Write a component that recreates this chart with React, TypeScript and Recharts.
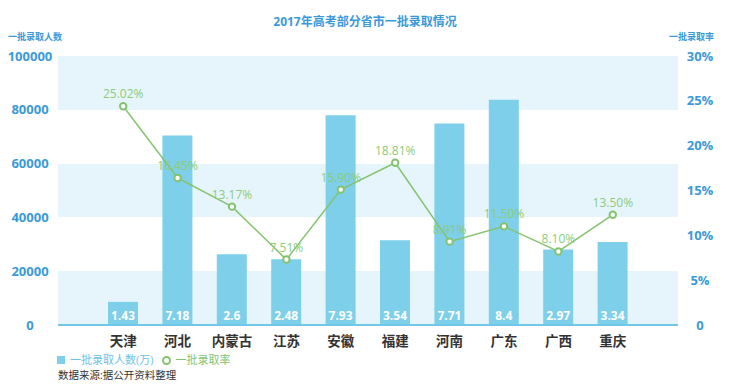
import React from 'react';
import {
  ComposedChart, Bar, Line, XAxis, YAxis, CartesianGrid, LabelList
} from 'recharts';

// 省市
const categories = ['天津', '河北', '内蒙古', '江苏', '安徽', '福建', '河南', '广东', '广西', '重庆'];
// 柱子高度
const countValues = [8600, 70400, 26300, 24400, 78000, 31500, 74900, 83700, 28100, 30900];
// 柱子上的标注（万）
const countLabels = ['1.43', '7.18', '2.6', '2.48', '7.93', '3.54', '7.71', '8.4', '2.97', '3.34'];
// 折线位置（按图上读取，%）
const rateValues = [24.4, 16.4, 13.2, 7.3, 15.1, 18.1, 9.3, 11.0, 8.2, 12.3];
const rateLabels = ['25.02%', '16.45%', '13.17%', '7.51%', '15.90%', '18.81%', '8.91%', '11.50%', '8.10%', '13.50%'];

const leftTicks = [0, 20000, 40000, 60000, 80000, 100000];
const rightTicks = [0, 5, 10, 15, 20, 25, 30];

const FONT = '"Open Sans", "Noto Sans CJK SC", sans-serif';
const BLUE_TEXT = '#3a9ad9';
const BAR = '#7dcfea';
const BAND = '#e6f5fb';
const GREEN = '#84c36e';
const GREEN_TEXT = '#8ccb78';

const data = categories.map((name, i) => ({
  name,
  count: countValues[i],
  countLabel: countLabels[i],
  rate: rateValues[i],
  rateLabel: rateLabels[i],
}));

const LeftTick = ({ x, y, payload }: any) => (
  <text x={x - 28} y={y} dy="0.35em" textAnchor="middle" fill={BLUE_TEXT}
    fontSize={13} fontWeight="bold" fontFamily={FONT}>
    {payload.value}
  </text>
);

const RightTick = ({ x, y, payload }: any) => (
  <text x={x + 22} y={y} dy="0.35em" textAnchor="middle" fill={BLUE_TEXT}
    fontSize={13} fontWeight="bold" fontFamily={FONT}>
    {payload.value === 0 ? '0' : `${payload.value}%`}
  </text>
);

const CategoryTick = ({ x, y, payload }: any) => (
  <text x={x} y={y + 16} dy="0.35em" textAnchor="middle" fill="#333"
    fontSize={13.5} fontWeight="bold" fontFamily={FONT}>
    {payload.value}
  </text>
);

export default function App() {
  return (
    <div style={{ position: 'absolute', left: 0, top: 0, width: 730, height: 390, background: '#fff', fontFamily: FONT }}>
      <div style={{ position: 'absolute', left: 0, width: 730, top: 14, textAlign: 'center', fontSize: 12, fontWeight: 'bold', color: BLUE_TEXT, lineHeight: '16px' }}>
        2017年高考部分省市一批录取情况
      </div>
      <div style={{ position: 'absolute', left: 8, top: 31, fontSize: 9, fontWeight: 'bold', color: BLUE_TEXT, lineHeight: '12px' }}>
        一批录取人数
      </div>
      <div style={{ position: 'absolute', right: 16, top: 31, fontSize: 9, fontWeight: 'bold', color: BLUE_TEXT, lineHeight: '12px' }}>
        一批录取率
      </div>

      <ComposedChart width={730} height={390} data={data}
        margin={{ top: 56, right: 0, left: 0, bottom: 35 }}>
        {/* 横向条纹背景 */}
        <CartesianGrid yAxisId="left" vertical={false} stroke="transparent"
          horizontalFill={[BAND, '#ffffff']} fillOpacity={1} />
        <XAxis dataKey="name" height={30} padding={{ left: 38, right: 38 }}
          axisLine={{ stroke: '#72c6e6', strokeWidth: 2 }} tickLine={false}
          tickSize={0} tickMargin={0} tick={<CategoryTick />} interval={0} />
        <YAxis yAxisId="left" width={58} domain={[0, 100000]} ticks={leftTicks}
          axisLine={false} tickLine={false} tickSize={0} tickMargin={0} tick={<LeftTick />} />
        <YAxis yAxisId="right" orientation="right" width={52} domain={[0, 30]} ticks={rightTicks}
          axisLine={false} tickLine={false} tickSize={0} tickMargin={0} tick={<RightTick />} />
        <Bar yAxisId="left" dataKey="count" fill={BAR} barSize={30} isAnimationActive={false}>
          <LabelList dataKey="countLabel" position="insideBottom" offset={5}
            fill="#fff" fontSize={12} fontWeight="bold" fontFamily={FONT} />
        </Bar>
        <Line yAxisId="right" dataKey="rate" stroke={GREEN} strokeWidth={1.5}
          dot={{ r: 3.2, fill: '#fff', stroke: GREEN, strokeWidth: 2 }}
          activeDot={false} isAnimationActive={false}>
          <LabelList dataKey="rateLabel" position="top" offset={8}
            fill={GREEN_TEXT} fontSize={12} fontFamily={FONT} />
        </Line>
      </ComposedChart>

      <div style={{ position: 'absolute', left: 57, top: 353, display: 'flex', alignItems: 'center', fontSize: 11, lineHeight: '14px' }}>
        <span style={{ display: 'inline-block', width: 8, height: 8, background: BAR, marginRight: 5 }} />
        <span style={{ color: '#6cc3e6' }}>一批录取人数(万)</span>
        <span style={{ display: 'inline-block', width: 5, height: 5, borderRadius: '50%', border: `2.5px solid ${GREEN}`, marginLeft: 8, marginRight: 5 }} />
        <span style={{ color: GREEN }}>一批录取率</span>
      </div>
      <div style={{ position: 'absolute', left: 58, top: 368, fontSize: 10.5, color: '#333', lineHeight: '14px' }}>
        数据来源:据公开资料整理
      </div>
    </div>
  );
}
